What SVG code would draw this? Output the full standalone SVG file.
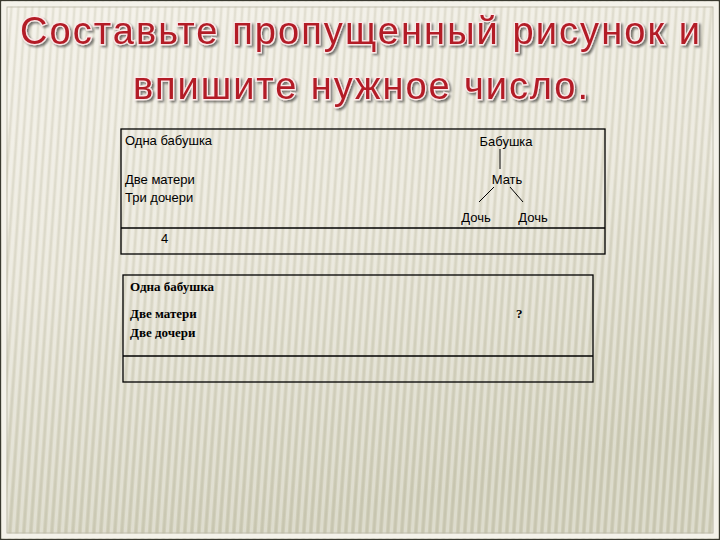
<svg xmlns="http://www.w3.org/2000/svg" width="720" height="540" viewBox="0 0 720 540">
<defs>
<linearGradient id="bg" x1="0" y1="0" x2="0.3" y2="1">
<stop offset="0" stop-color="#f1eee4"/>
<stop offset="0.5" stop-color="#e6e3d5"/>
<stop offset="1" stop-color="#cfcdb8"/>
</linearGradient>
<pattern id="stripes" width="7" height="540" patternUnits="userSpaceOnUse" patternTransform="skewX(-4)">
<rect x="0" y="0" width="3" height="540" fill="#ffffff" opacity="0.3"/>
<rect x="4" y="0" width="2" height="540" fill="#9a9680" opacity="0.15"/>
</pattern>
<filter id="sh" x="-5%" y="-20%" width="110%" height="150%">
<feGaussianBlur in="SourceAlpha" stdDeviation="1.2"/>
<feOffset dx="1.5" dy="2" result="b"/>
<feComponentTransfer><feFuncA type="linear" slope="0.5"/></feComponentTransfer>
<feMerge><feMergeNode/><feMergeNode in="SourceGraphic"/></feMerge>
</filter>
<style>
.title{font-family:"Liberation Sans",Arial,sans-serif;font-size:38px;fill:#b31d28;stroke:#fbe9e9;stroke-width:2.5;paint-order:stroke}
.box{fill:none;stroke:#000;stroke-width:1.3}
.sans{font-family:"Liberation Sans",Arial,sans-serif;font-size:13px;fill:#000}
.serif{font-family:"Liberation Serif","Times New Roman",serif;font-size:13px;font-weight:bold;fill:#000}
.conn{stroke:#000;stroke-width:1;fill:none}
</style>
</defs>
<rect x="0" y="0" width="720" height="540" fill="url(#bg)"/>
<rect x="0" y="0" width="720" height="540" fill="url(#stripes)"/>
<rect x="0.5" y="0.5" width="719" height="539" fill="none" stroke="#3a3a30" stroke-width="1.5"/>
<rect x="4" y="4" width="712" height="532" fill="none" stroke="#f4f2ea" stroke-width="5"/>
<rect x="7" y="7" width="706" height="526" fill="none" stroke="#b9b7a6" stroke-width="0.8"/>

<g id="title" filter="url(#sh)">
<text class="title" x="20" y="44" textLength="680" lengthAdjust="spacing">Составьте пропущенный рисунок и</text>
<text class="title" x="133" y="99" textLength="455" lengthAdjust="spacing">впишите нужное число.</text>
</g>

<g id="box1">
<rect class="box" x="121" y="129" width="484" height="125"/>
<line class="box" x1="121" y1="228" x2="605" y2="228"/>
<text class="sans" x="125" y="145">Одна бабушка</text>
<text class="sans" x="125" y="184">Две матери</text>
<text class="sans" x="125" y="202">Три дочери</text>
<text class="sans" x="161" y="243">4</text>
</g>

<g id="n-babushka"><text class="sans" x="506" y="146" text-anchor="middle">Бабушка</text></g>
<g id="n-mat"><text class="sans" x="507" y="184" text-anchor="middle">Мать</text></g>
<g id="n-doch1"><text class="sans" x="476" y="222" text-anchor="middle">Дочь</text></g>
<g id="n-doch2"><text class="sans" x="533" y="222" text-anchor="middle">Дочь</text></g>

<g id="connectors">
<line class="conn" x1="500" y1="149" x2="500" y2="169"/>
<line class="conn" x1="494" y1="187" x2="479" y2="202"/>
<line class="conn" x1="510" y1="187" x2="523" y2="202"/>
</g>

<g id="box2">
<rect class="box" x="123" y="275" width="470" height="107"/>
<line class="box" x1="123" y1="356" x2="593" y2="356"/>
<text class="serif" x="130" y="291">Одна бабушка</text>
<text class="serif" x="130" y="318">Две матери</text>
<text class="serif" x="130" y="337">Две дочери</text>
<text class="serif" x="516" y="318" font-size="19">?</text>
</g>
</svg>
